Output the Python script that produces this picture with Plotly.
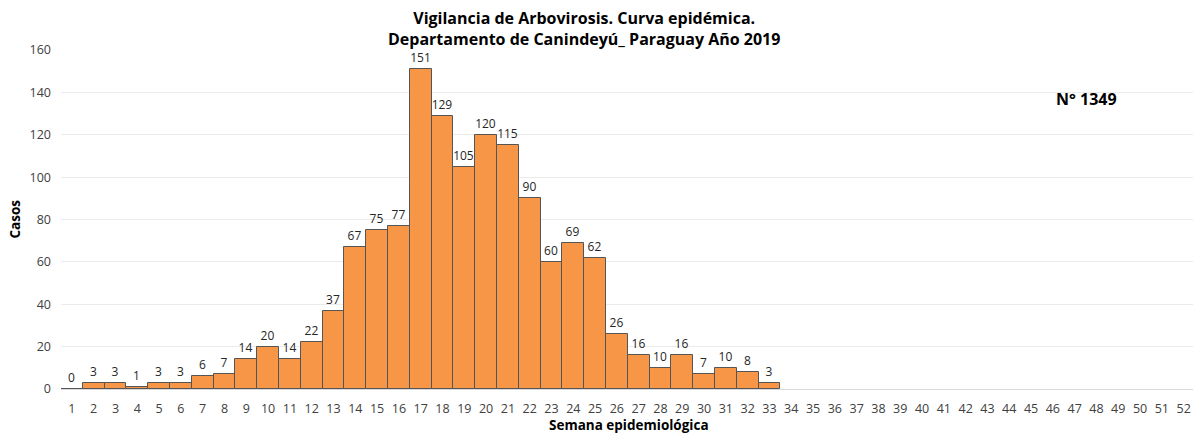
import plotly.graph_objects as go

weeks = [str(i) for i in range(1, 53)]
cases = [0, 3, 3, 1, 3, 3, 6, 7, 14, 20, 14, 22, 37, 67, 75, 77, 151, 129, 105, 120,
         115, 90, 60, 69, 62, 26, 16, 10, 16, 7, 10, 8, 3]
cases_full = cases + [None] * (52 - len(cases))
labels = [str(v) for v in cases] + [""] * (52 - len(cases))

title_line1 = "Vigilancia de Arbovirosis. Curva epidémica."
title_line2 = "Departamento de Canindeyú_ Paraguay Año 2019"
x_title = "Semana epidemiológica"
y_title = "Casos"
note_text = "N° 1349"

FONT = "Open Sans, Noto Sans, sans-serif"

fig = go.Figure()
fig.add_trace(go.Bar(
    x=weeks, y=cases_full, text=labels, textposition="outside",
    textfont=dict(size=12, color="#262626", family=FONT),
    cliponaxis=False,
    marker=dict(color="#F79646", line=dict(color="#555555", width=1)),
))

fig.update_layout(
    width=1193, height=433,
    margin=dict(l=61, r=0, t=50, b=44),
    paper_bgcolor="white", plot_bgcolor="white",
    bargap=0,
    showlegend=False,
    font=dict(family=FONT, color="#404040", size=12),
    xaxis=dict(
        type="category", categoryorder="array", categoryarray=weeks,
        range=[-0.5, 51.43],
        tickfont=dict(size=12.5, color="#404040"),
        ticklabelstandoff=10,
        showgrid=False, showline=False, zeroline=False,
    ),
    yaxis=dict(
        range=[0, 160], dtick=20, showgrid=True, gridcolor="#ebebeb", gridwidth=1,
        zeroline=True, zerolinecolor="#d9d9d9", zerolinewidth=1,
        tickfont=dict(size=12.5, color="#404040"),
        ticklabelstandoff=9,
    ),
    annotations=[
        dict(text="<b>" + title_line1 + "</b><br><b>" + title_line2 + "</b>",
             xref="paper", yref="paper", x=0.462, y=1, yshift=22,
             xanchor="center", yanchor="middle", showarrow=False,
             font=dict(size=16, color="#000000", family=FONT)),
        dict(text="<b>" + note_text + "</b>", xref="paper", yref="paper",
             x=0.906, y=0.855, xanchor="center", yanchor="middle",
             showarrow=False, font=dict(size=16, color="#000000", family=FONT)),
        dict(text="<b>" + x_title + "</b>", xref="paper", yref="paper",
             x=0.502, y=0, yshift=-36, xanchor="center", yanchor="middle",
             showarrow=False, font=dict(size=13.5, color="#000000", family=FONT)),
        dict(text="<b>" + y_title + "</b>", xref="paper", yref="paper",
             x=0, xshift=-47, y=0.5, xanchor="center", yanchor="middle", textangle=-90,
             showarrow=False, font=dict(size=13.5, color="#000000", family=FONT)),
    ],
)

fig.write_html("out.html", config={"displayModeBar": False},
               post_script="document.body.style.margin='0';document.body.style.overflow='hidden';")
